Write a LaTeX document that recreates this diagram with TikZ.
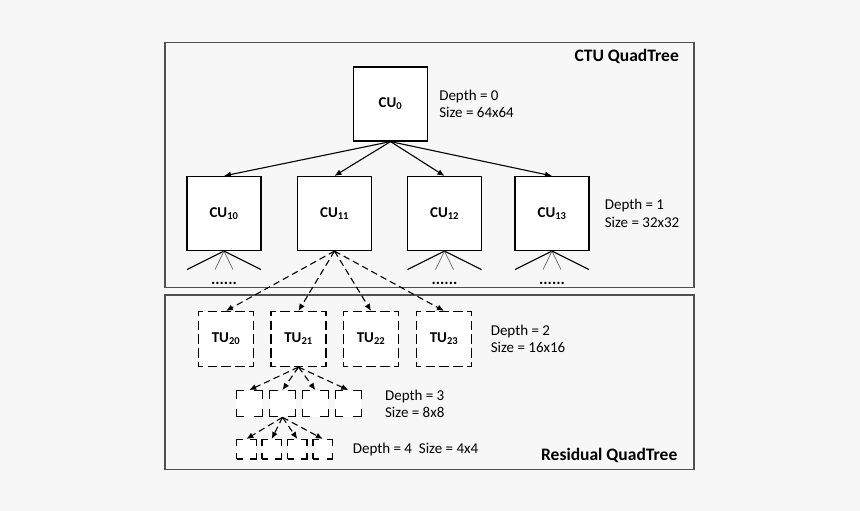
\documentclass[tikz,border=0pt]{standalone}
\usepackage{fontspec}
\setmainfont{Carlito}
\usepackage{tikz}
\usetikzlibrary{positioning,arrows.meta,calc}
\definecolor{mybg}{RGB}{247,247,247}
\definecolor{myframe}{RGB}{80,80,80}
\tikzstyle{frame} = [draw=myframe, line width=1.4pt]
\tikzstyle{cubox} = [draw=black, fill=white, line width=1.2pt, rectangle,
    minimum width=74pt, minimum height=74pt, inner sep=0pt,
    font=\fontsize{15}{18}\selectfont\bfseries]
\tikzstyle{tubox} = [cubox, minimum width=55pt, minimum height=55pt,
    dash pattern=on 9.5pt off 4.25pt, dash phase=4.75pt]
\tikzstyle{smallbox} = [draw=black, fill=white, line width=1.2pt, rectangle,
    minimum width=26pt, minimum height=26pt, inner sep=0pt,
    dash pattern=on 16pt off 10pt, dash phase=8pt]
\tikzstyle{tinybox} = [smallbox, minimum width=19.5pt, minimum height=19.5pt,
    dash pattern=on 12pt off 7.5pt, dash phase=6pt]
\tikzstyle{lbl} = [align=left, inner sep=0pt, font=\fontsize{15}{17.5}\selectfont]
\tikzstyle{title} = [anchor=east, inner sep=0pt, font=\fontsize{17.5}{20}\selectfont\bfseries]
\tikzstyle{dots} = [anchor=base, inner sep=0pt, font=\fontsize{16}{18}\selectfont\bfseries]
\tikzstyle{arrow} = [line width=1.1pt,-{Latex[length=7pt,width=6pt]}]
\tikzstyle{darrow} = [arrow, dash pattern=on 6.5pt off 4pt]
\tikzstyle{fan} = [line width=1.1pt]
\newcommand{\cu}[1]{CU\textsubscript{#1}}
\newcommand{\tu}[1]{TU\textsubscript{#1}}

\begin{document}
\begin{tikzpicture}[x=1pt,y=-1pt]
\fill[mybg] (0,0) rectangle (860,511);
\useasboundingbox (0,0) rectangle (860,511);
% the two quadtree frames
\draw[frame] (165,42.5) rectangle (694,287.5);
\draw[frame] (165,295) rectangle (694,469.3);
\node[title] (ctu) at (679,56.7) {CTU QuadTree};
\node[title] (res) at (677.5,455) {Residual QuadTree};

% CU level
\node[cubox] (cu0) at (390.5,104) {\cu{0}};
\node[cubox] (cu10) at (224,213.5) {\cu{10}};
\node[cubox] (cu11) at (334.5,213.5) {\cu{11}};
\node[cubox] (cu12) at (444.5,213.5) {\cu{12}};
\node[cubox] (cu13) at (552,213.5) {\cu{13}};
\node[lbl, right=11pt of cu0] (d0) {Depth = 0\\Size = 64x64};
\node[lbl, right=15pt of cu13] (d1) {Depth = 1\\Size = 32x32};

\draw[arrow] (cu0.south) -- (cu10.north);
\draw[arrow] (cu0.south) -- (cu11.north);
\draw[arrow] (cu0.south) -- (cu12.north);
\draw[arrow] (cu0.south) -- (cu13.north);

% unexpanded children
\foreach \b in {cu10,cu12,cu13}{
  \coordinate (\b-1) at ($(\b.south)+(-37,18.5)$);
  \coordinate (\b-2) at ($(\b.south)+(-9,18.5)$);
  \coordinate (\b-3) at ($(\b.south)+(9,18.5)$);
  \coordinate (\b-4) at ($(\b.south)+(37,18.5)$);
  \draw[fan] (\b.south) -- (\b-1);
  \draw[fan, black!55, line width=0.8pt] (\b.south) -- (\b-2);
  \draw[fan, black!55, line width=0.8pt] (\b.south) -- (\b-3);
  \draw[fan] (\b.south) -- (\b-4);
  \node[dots] (\b-dots) at ($(\b.south)+(0,33)$) {......};
}

% TU level
\node[tubox] (tu20) at (226,339) {\tu{20}};
\node[tubox] (tu21) at (298.5,339) {\tu{21}};
\node[tubox] (tu22) at (371,339) {\tu{22}};
\node[tubox] (tu23) at (444,339) {\tu{23}};
\node[lbl, right=18.5pt of tu23] (d2) {Depth = 2\\Size = 16x16};

\draw[darrow] (cu11.south) -- (tu20.north);
\draw[darrow] (cu11.south) -- (tu21.north);
\draw[darrow] (cu11.south) -- (tu22.north);
\draw[darrow] (cu11.south) -- (tu23.north);

% depth 3
\node[smallbox] (t30) at (249.2,403.7) {};
\node[smallbox] (t31) at (282.5,403.7) {};
\node[smallbox] (t32) at (315.3,403.7) {};
\node[smallbox] (t33) at (348.3,403.7) {};
\node[lbl, right=23pt of t33] (d3) {Depth = 3\\Size = 8x8};

\draw[darrow] (tu21.south) -- (t30.north);
\draw[darrow] (tu21.south) -- (t31.north);
\draw[darrow] (tu21.south) -- (t32.north);
\draw[darrow] (tu21.south) -- (t33.north);

% depth 4
\node[tinybox] (t40) at (246.4,449.3) {};
\node[tinybox] (t41) at (271.7,449.3) {};
\node[tinybox] (t42) at (297.3,449.3) {};
\node[tinybox] (t43) at (322.8,449.3) {};
\node[lbl, right=19.5pt of t43] (d4) {Depth = 4\ \ Size = 4x4};

\draw[darrow] (t31.south) -- (t40.north);
\draw[darrow] (t31.south) -- (t41.north);
\draw[darrow] (t31.south) -- (t42.north);
\draw[darrow] (t31.south) -- (t43.north);
%\node[title] at (d4.east) {};
\end{tikzpicture}
\end{document}
